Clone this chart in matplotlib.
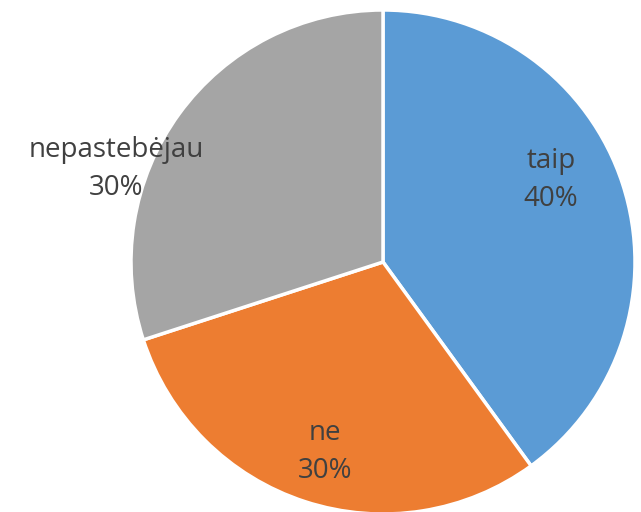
import matplotlib
matplotlib.use('Agg')
import matplotlib.pyplot as plt

# 資料
labels = ['taip', 'ne', 'nepastebėjau']
values = [40, 30, 30]
colors = ['#5B9BD5', '#ED7D31', '#A5A5A5']

# 標籤位置 (相對於圓心，以半徑為單位)
label_pos = [(0.667, 0.325), (-0.23, -0.754), (-1.06, 0.37)]

fig = plt.figure(figsize=(6.41, 5.12), dpi=100)
# 圓心約在 (383, 262) px，半徑約 252 px
ax = fig.add_axes([131 / 641, -2 / 512, 504 / 641, 504 / 512])

wedges, _ = ax.pie(values, colors=colors, startangle=90, counterclock=False,
                   radius=1.0, wedgeprops={'edgecolor': 'white', 'linewidth': 2.5})

for lab, val, (x, y) in zip(labels, values, label_pos):
    ax.text(x, y, f'{lab}\n{val}%', ha='center', va='center', fontsize=20,
            color='#404040', family='Open Sans', linespacing=1.5)

ax.set_xlim(-1, 1)
ax.set_ylim(-1, 1)
ax.set_aspect('auto')
ax.axis('off')

plt.savefig('out.png', dpi=100)
